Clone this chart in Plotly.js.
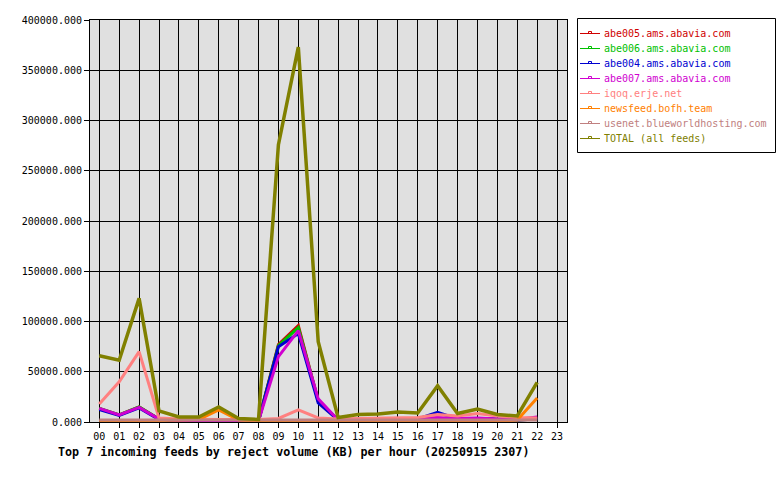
<!DOCTYPE html>
<html>
<head>
<meta charset="utf-8">
<script src="https://cdn.plot.ly/plotly-3.0.1.min.js"></script>
<style>
  html, body { margin: 0; padding: 0; background: #ffffff; }
  #chart { width: 780px; height: 480px; }
</style>
</head>
<body>
<div id="chart"></div>
<script>
const hours = ['00','01','02','03','04','05','06','07','08','09','10','11','12','13','14','15','16','17','18','19','20','21','22','23'];

const feedNames = [
  'abe005.ams.abavia.com',
  'abe006.ams.abavia.com',
  'abe004.ams.abavia.com',
  'abe007.ams.abavia.com',
  'iqoq.erje.net',
  'newsfeed.bofh.team',
  'usenet.blueworldhosting.com',
  'TOTAL (all feeds)'
];

const feedColors = ['#d00000', '#00c000', '#0000d0', '#d000d0', '#ff8080', '#ff8000', '#c08080', '#808000'];

const abe005 = [13500, 7000, 15000, 3000, 1000, 1000, 1000, 500, 1000, 77000, 96000, 21000, 2000, 2000, 2000, 2000, 2500, 3000, 2500, 3000, 2500, 2000, 3000, null];
const abe006 = [13500, 7000, 15000, 3000, 1000, 1000, 1000, 500, 1000, 76000, 94000, 21000, 2000, 2000, 2000, 2000, 2500, 3000, 2500, 3000, 2500, 2000, 3000, null];
const abe004 = [12500, 6500, 14000, 2500, 1000, 1000, 1000, 500, 1000, 75000, 88000, 19000, 2000, 2000, 2000, 2000, 3000, 9500, 3000, 3500, 3000, 2000, 3000, null];
const abe007 = [13500, 7000, 14500, 3000, 1000, 1000, 1000, 500, 1000, 65000, 91000, 23000, 2000, 2000, 2000, 2000, 3500, 4500, 3500, 4000, 3000, 2500, 5000, null];
const iqoq = [18000, 40000, 70000, 4000, 3000, 2500, 2500, 2500, 2500, 3500, 12000, 4000, 3000, 3500, 4000, 4000, 4500, 7500, 6000, 8500, 6000, 4500, 4000, null];
const newsfeed = [500, 500, 500, 1500, 2000, 2500, 12000, 2000, 500, 500, 500, 500, 500, 500, 500, 500, 500, 500, 1000, 500, 500, 2000, 24000, null];
const usenet = [2000, 2000, 2000, 2000, 2000, 2000, 2000, 2000, 2000, 2000, 2000, 2000, 2000, 2000, 2000, 2000, 2000, 2000, 2000, 2000, 2000, 2000, 2000, null];
const total = [66000, 61500, 123000, 11000, 5000, 5000, 15000, 3500, 2500, 276000, 373000, 80000, 4500, 7500, 8000, 10000, 9000, 36000, 8500, 13000, 7500, 6000, 39500, null];

const yTickVals = [0, 50000, 100000, 150000, 200000, 250000, 300000, 350000, 400000];

const series = [abe005, abe006, abe004, abe007, iqoq, newsfeed, usenet, total];
const hourIdx = hours.map((h, i) => i);

const mono = 'DejaVu Sans Mono, Liberation Mono, monospace';

// plot area geometry (pixels) used to place the legend box in paper coords
const M = { l: 90, r: 213, t: 20, b: 58 };
const plotW = 780 - M.l - M.r;
const plotH = 480 - M.t - M.b;
const px = v => (v - M.l) / plotW;
const py = v => (480 - M.b - v) / plotH;

const traces = series.map((vals, k) => ({
  x: hourIdx,
  y: vals,
  type: 'scatter',
  mode: 'lines',
  name: feedNames[k],
  showlegend: false,
  line: { color: feedColors[k], width: k === 7 ? 3.5 : 3 },
  connectgaps: false,
  hoverinfo: 'skip'
}));

// legend built from names and colours
const shapes = [{
  type: 'rect', xref: 'paper', yref: 'paper',
  x0: px(577.5), x1: px(775.5), y0: py(152.5), y1: py(18.5),
  line: { color: '#000000', width: 1 }, fillcolor: '#ffffff', layer: 'above'
}];
const annotations = [];
feedNames.forEach((name, k) => {
  const yc = 33.5 + 15 * k;
  shapes.push({
    type: 'line', xref: 'paper', yref: 'paper',
    x0: px(580), x1: px(600), y0: py(yc), y1: py(yc),
    line: { color: feedColors[k], width: 1 }, layer: 'above'
  });
  shapes.push({
    type: 'rect', xref: 'paper', yref: 'paper',
    x0: px(588.5), x1: px(591.5), y0: py(yc), y1: py(yc - 2),
    line: { color: feedColors[k], width: 1 }, fillcolor: 'rgba(0,0,0,0)', layer: 'above'
  });
  annotations.push({
    xref: 'paper', yref: 'paper',
    x: px(603), y: py(yc - 0.5),
    xanchor: 'left', yanchor: 'middle',
    text: name, showarrow: false,
    font: { family: mono, size: 10, color: feedColors[k] },
    borderpad: 0
  });
});

const layout = {
  width: 780,
  height: 480,
  margin: { l: M.l, r: M.r, t: M.t, b: M.b, pad: 0 },
  paper_bgcolor: '#ffffff',
  plot_bgcolor: '#e0e0e0',
  font: { family: mono, size: 10, color: '#000000' },
  showlegend: false,
  title: {
    text: 'Top 7 incoming feeds by reject volume (KB) per hour (20250915 2307)',
    font: { family: mono, size: 11.7, color: '#000000', weight: 'bold' },
    xref: 'container', x: 58 / 780, xanchor: 'left',
    yref: 'container', y: 1 - 452 / 480, yanchor: 'middle'
  },
  xaxis: {
    range: [-0.467, 23.5],
    tickmode: 'array',
    tickvals: hourIdx,
    ticktext: hours,
    showgrid: true,
    gridcolor: '#000000',
    gridwidth: 1,
    showline: true,
    linecolor: '#000000',
    linewidth: 1,
    mirror: true,
    ticks: 'outside',
    ticklen: 5,
    tickcolor: '#000000',
    tickfont: { family: mono, size: 10, color: '#000000' },
    zeroline: false,
    fixedrange: true
  },
  yaxis: {
    range: [0, 400000],
    tickmode: 'array',
    tickvals: yTickVals,
    tickformat: '.3f',
    showgrid: true,
    gridcolor: '#000000',
    gridwidth: 1,
    showline: true,
    linecolor: '#000000',
    linewidth: 1,
    mirror: true,
    ticks: 'outside',
    ticklen: 5,
    tickcolor: '#000000',
    tickfont: { family: mono, size: 10, color: '#000000' },
    zeroline: false,
    fixedrange: true
  },
  shapes: shapes,
  annotations: annotations
};

Plotly.newPlot('chart', traces, layout, { displayModeBar: false, staticPlot: true });
</script>
</body>
</html>
